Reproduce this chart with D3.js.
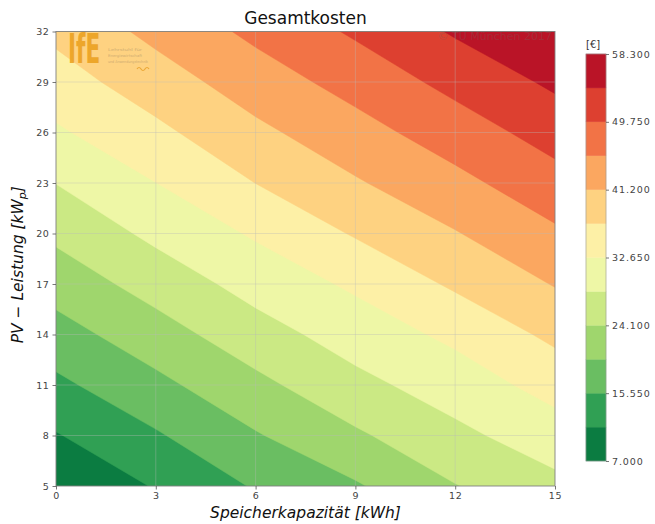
<!DOCTYPE html>
<html>
<head>
<meta charset="utf-8">
<script src="https://cdn.jsdelivr.net/npm/d3@7"></script>
<style>
  html, body { margin: 0; padding: 0; background: #fff; }
  svg { display: block; font-family: "DejaVu Sans", sans-serif; }
</style>
</head>
<body>
<svg id="chart" width="655" height="524"></svg>
<script>
// Storage capacity (kWh) along x, PV power (kWp) along y
const storage = [0, 3, 6, 9, 12, 15];
const pvPower = [5, 8, 11, 14, 17, 20, 23, 26, 29, 32];

// Total cost (€) per grid node, one row per PV power value
const costRows = [
  [ 7000, 11620, 15930, 19350, 23930, 27220],
  [11000, 15090, 19470, 23450, 27340, 30690],
  [14630, 18730, 22990, 27170, 30410, 34240],
  [18130, 22250, 26600, 30290, 33600, 37880],
  [21590, 25820, 29970, 33370, 37570, 41430],
  [25010, 29370, 33160, 37300, 40950, 44800],
  [28450, 32610, 36960, 40770, 44280, 48180],
  [32050, 35930, 40220, 43880, 47610, 51480],
  [35080, 39150, 43360, 47050, 51000, 54790],
  [37900, 42340, 46440, 50340, 54490, 58300]
];

// Contour levels and colour bar ticks
const levels = [7000, 11275, 15550, 19825, 24100, 28375, 32650, 36925, 41200, 45475, 49750, 54025, 58300];
const colorbarTicks = [7000, 15550, 24100, 32650, 41200, 49750, 58300];
const xTicks = [0, 3, 6, 9, 12, 15];
const yTicks = [5, 8, 11, 14, 17, 20, 23, 26, 29, 32];

const svg = d3.select("#chart");

const plot = { left: 56, right: 555, top: 31.5, bottom: 486 };
const x = d3.scaleLinear().domain([0, 15]).range([plot.left, plot.right]);
const y = d3.scaleLinear().domain([5, 32]).range([plot.bottom, plot.top]);

const nBands = levels.length - 1;
const bandColor = i => d3.interpolateRdYlGn(1 - (i + 0.5) / nBands);

// Filled contours
const nx = storage.length, ny = pvPower.length;
const values = [];
costRows.forEach(row => row.forEach(v => values.push(v)));
const dxStep = storage[1] - storage[0];
const dyStep = pvPower[1] - pvPower[0];

const contours = d3.contours().size([nx, ny]).thresholds(levels.slice(0, -1))(values);
const toScreen = d3.geoTransform({
  point(gx, gy) {
    this.stream.point(
      x(storage[0] + (gx - 0.5) * dxStep),
      y(pvPower[0] + (gy - 0.5) * dyStep)
    );
  }
});
const path = d3.geoPath(toScreen);

svg.append("defs").append("clipPath").attr("id", "plotClip")
  .append("rect")
  .attr("x", plot.left).attr("y", plot.top)
  .attr("width", plot.right - plot.left).attr("height", plot.bottom - plot.top);

const cg = svg.append("g").attr("clip-path", "url(#plotClip)");
cg.selectAll("path.band")
  .data(contours)
  .join("path")
  .attr("class", "band")
  .attr("d", path)
  .attr("fill", (d, i) => bandColor(i))
  .attr("stroke", (d, i) => bandColor(i))
  .attr("stroke-width", 0.5);

// Grid lines
const grid = svg.append("g").attr("stroke", "#b8b8b8").attr("stroke-opacity", 0.45).attr("stroke-width", 0.8);
grid.selectAll("line.gx").data(xTicks.slice(1, -1)).join("line")
  .attr("x1", d => x(d)).attr("x2", d => x(d)).attr("y1", plot.top).attr("y2", plot.bottom);
grid.selectAll("line.gy").data(yTicks.slice(1, -1)).join("line")
  .attr("y1", d => y(d)).attr("y2", d => y(d)).attr("x1", plot.left).attr("x2", plot.right);

// Logo watermark
const logo = svg.append("g").attr("opacity", 0.85);
logo.append("text")
  .attr("transform", "translate(68,63) scale(0.6,1)")
  .attr("font-family", "'DejaVu Sans Condensed', 'DejaVu Sans', sans-serif")
  .attr("font-size", 40).attr("font-weight", "bold")
  .attr("fill", "#eb9f1c")
  .text("IfE");
["Lehrstuhl für", "Energiewirtschaft", "und Anwendungstechnik"].forEach((t, i) => {
  logo.append("text")
    .attr("x", 108).attr("y", 51 + i * 6)
    .attr("font-size", 3.8)
    .attr("textLength", i === 2 ? 40 : 34).attr("lengthAdjust", "spacingAndGlyphs")
    .attr("fill", "#c9a870")
    .text(t);
});
logo.append("path")
  .attr("d", "M137,69 q2,-3 4,0 t4,0 t4,0")
  .attr("fill", "none").attr("stroke", "#e9a12a").attr("stroke-width", 1.2);

// Copyright watermark
svg.append("text")
  .attr("x", 552).attr("y", 40)
  .attr("text-anchor", "end")
  .attr("font-size", 11)
  .attr("fill", "#7a5a5a").attr("fill-opacity", 0.35)
  .text("© TU München 2017");

// Frame
svg.append("rect")
  .attr("x", plot.left).attr("y", plot.top)
  .attr("width", plot.right - plot.left).attr("height", plot.bottom - plot.top)
  .attr("fill", "none").attr("stroke", "#808080").attr("stroke-width", 0.9);

// Axes
const tickColor = "#555";
const xAxis = svg.append("g").attr("transform", `translate(0,${plot.bottom})`)
  .call(d3.axisBottom(x).tickValues(xTicks).tickSize(3.5).tickPadding(3).tickFormat(d3.format("d")));
const yAxis = svg.append("g").attr("transform", `translate(${plot.left},0)`)
  .call(d3.axisLeft(y).tickValues(yTicks).tickSize(3.5).tickPadding(3).tickFormat(d3.format("d")));
[xAxis, yAxis].forEach(a => {
  a.select(".domain").remove();
  a.selectAll(".tick line").attr("stroke", tickColor).attr("stroke-width", 0.8);
  a.selectAll(".tick text")
    .attr("fill", "#444")
    .attr("font-size", 9.5)
    .attr("letter-spacing", 0.6)
    .attr("font-family", "'DejaVu Sans', sans-serif");
});

// Title
svg.append("text")
  .attr("x", (plot.left + plot.right) / 2).attr("y", 24)
  .attr("text-anchor", "middle")
  .attr("font-size", 17)
  .attr("fill", "#111")
  .text("Gesamtkosten");

// Axis labels
svg.append("text")
  .attr("x", (plot.left + plot.right) / 2).attr("y", 518)
  .attr("text-anchor", "middle")
  .attr("font-size", 15.5).attr("font-style", "italic")
  .attr("fill", "#111")
  .text("Speicherkapazität [kWh]");

const yl = svg.append("text")
  .attr("transform", `translate(23,${(plot.top + plot.bottom) / 2 + 6}) rotate(-90)`)
  .attr("text-anchor", "middle")
  .attr("font-size", 15.5).attr("font-style", "italic")
  .attr("fill", "#111");
yl.append("tspan").text("PV − Leistung [kW");
yl.append("tspan").attr("font-size", 11).attr("dy", 3).text("p");
yl.append("tspan").attr("dy", -3).text("]");

// Colour bar
const cb = { x: 586, w: 20, top: 54, bottom: 461 };
const cy = d3.scaleLinear().domain([levels[0], levels[levels.length - 1]]).range([cb.bottom, cb.top]);
const cbg = svg.append("g");
cbg.selectAll("rect").data(d3.range(nBands)).join("rect")
  .attr("x", cb.x).attr("width", cb.w)
  .attr("y", i => cy(levels[i + 1]))
  .attr("height", i => cy(levels[i]) - cy(levels[i + 1]))
  .attr("fill", i => bandColor(i))
  .attr("stroke", i => bandColor(i)).attr("stroke-width", 0.4);
cbg.append("rect")
  .attr("x", cb.x).attr("y", cb.top).attr("width", cb.w).attr("height", cb.bottom - cb.top)
  .attr("fill", "none").attr("stroke", "#999").attr("stroke-width", 0.6);

const de = d3.formatLocale({ decimal: ",", thousands: ".", grouping: [3], currency: ["", " €"] });
const cbAxis = svg.append("g").attr("transform", `translate(${cb.x + cb.w},0)`)
  .call(d3.axisRight(cy).tickValues(colorbarTicks).tickSize(3).tickPadding(3).tickFormat(de.format(",.0f")));
cbAxis.select(".domain").remove();
cbAxis.selectAll(".tick line").attr("stroke", tickColor).attr("stroke-width", 0.8);
cbAxis.selectAll(".tick text")
  .attr("fill", "#444").attr("font-size", 9.5).attr("letter-spacing", 0.9)
  .attr("font-family", "'DejaVu Sans', sans-serif");

svg.append("text")
  .attr("x", cb.x).attr("y", 48)
  .attr("font-size", 10).attr("fill", "#333")
  .text("[€]");
</script>
</body>
</html>
